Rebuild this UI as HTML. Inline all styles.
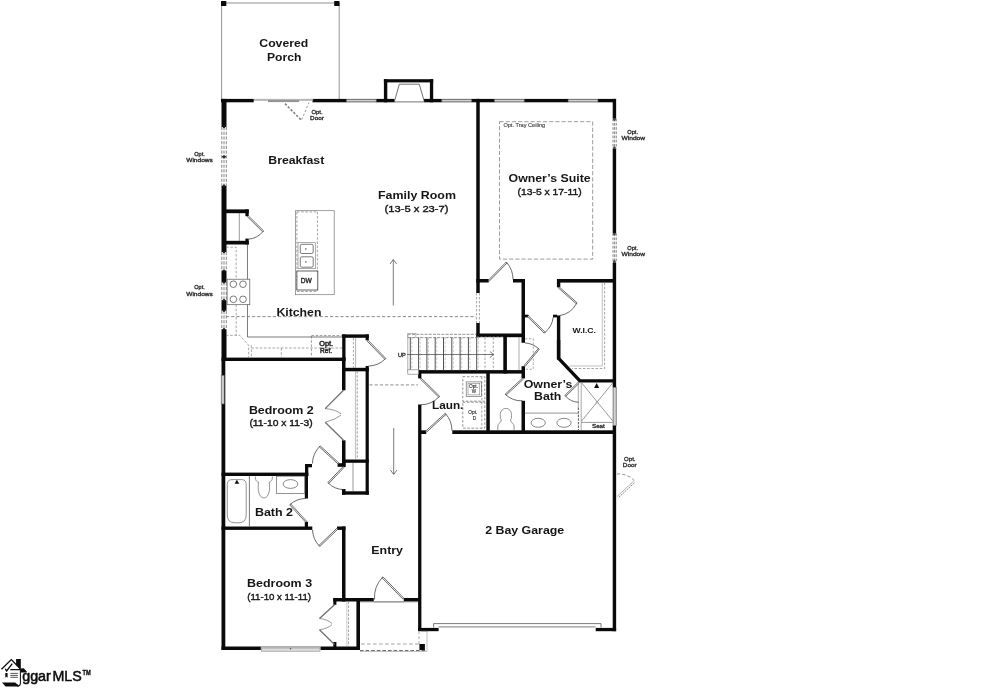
<!DOCTYPE html>
<html><head><meta charset="utf-8"><title>Floor Plan</title>
<style>
html,body{margin:0;padding:0;background:#fff;}
body{width:992px;height:688px;overflow:hidden;font-family:"Liberation Sans",sans-serif;}
svg{display:block;filter:grayscale(1);}
</style></head><body>
<svg width="992" height="688" viewBox="0 0 992 688">
<rect width="992" height="688" fill="#fff"/>
<path d="M221.6,3 H339.2 M221.6,3 V99 M339.2,3 V99" fill="none" stroke="#777" stroke-width="0.8" />
<rect x="221.00" y="1.00" width="5.30" height="5.00" fill="#0a0a0a"/>
<rect x="334.20" y="1.00" width="5.30" height="5.00" fill="#0a0a0a"/>
<rect x="221.00" y="98.90" width="32.75" height="3.40" fill="#0a0a0a"/>
<rect x="312.50" y="98.90" width="33.75" height="3.40" fill="#0a0a0a"/>
<rect x="376.25" y="98.90" width="18.25" height="3.40" fill="#0a0a0a"/>
<rect x="424.00" y="98.90" width="17.75" height="3.40" fill="#0a0a0a"/>
<rect x="471.75" y="98.90" width="22.50" height="3.40" fill="#0a0a0a"/>
<rect x="524.25" y="98.90" width="43.75" height="3.40" fill="#0a0a0a"/>
<rect x="598.00" y="98.90" width="18.00" height="3.40" fill="#0a0a0a"/>
<rect x="346.25" y="99.25" width="30.00" height="2.70" rx="0" fill="#cfcfcf" stroke="#3a3a3a" stroke-width="0.7"/>
<rect x="441.75" y="99.25" width="30.00" height="2.70" rx="0" fill="#cfcfcf" stroke="#3a3a3a" stroke-width="0.7"/>
<rect x="494.25" y="99.25" width="30.00" height="2.70" rx="0" fill="#cfcfcf" stroke="#3a3a3a" stroke-width="0.7"/>
<rect x="568.00" y="99.25" width="30.00" height="2.70" rx="0" fill="#cfcfcf" stroke="#3a3a3a" stroke-width="0.7"/>
<rect x="254.00" y="99.10" width="59.00" height="1.40" rx="0" fill="#c8c8c8" stroke="#888" stroke-width="0.4"/>
<rect x="268.30" y="100.40" width="30.50" height="1.50" rx="0" fill="#9a9a9a" stroke="#777" stroke-width="0.4"/>
<path d="M285,103.7 L301.2,120" fill="none" stroke="#858585" stroke-width="1.7" stroke-dasharray="2.4 1.6" />
<path d="M301.7,119.7 L309,102.5" fill="none" stroke="#777" stroke-width="0.7" stroke-dasharray="2.4 1.8" />
<rect x="383.90" y="79.20" width="49.30" height="3.20" fill="#0a0a0a"/>
<rect x="383.90" y="79.20" width="3.40" height="23.10" fill="#0a0a0a"/>
<rect x="429.90" y="79.20" width="3.30" height="23.10" fill="#0a0a0a"/>
<path d="M394.3,101.9 L399.3,84.2 H419.3 L424.4,101.9 Z" fill="none" stroke="#444" stroke-width="0.75" />
<rect x="221.50" y="98.90" width="5.00" height="28.10" fill="#0a0a0a"/>
<rect x="221.50" y="185.75" width="5.00" height="66.25" fill="#0a0a0a"/>
<rect x="221.50" y="270.60" width="5.00" height="11.70" fill="#0a0a0a"/>
<rect x="221.50" y="300.20" width="5.00" height="10.50" fill="#0a0a0a"/>
<rect x="221.50" y="329.20" width="5.00" height="31.80" fill="#0a0a0a"/>
<rect x="221.50" y="361.00" width="3.80" height="289.00" fill="#0a0a0a"/>
<path d="M221.8,127 V185.7 M224,127 V185.7 M226.3,127 V185.7" fill="none" stroke="#555" stroke-width="0.7" stroke-dasharray="3.2 1.5" />
<path d="M221.8,252 V270.6 M224,252 V270.6 M226.3,252 V270.6" fill="none" stroke="#555" stroke-width="0.7" stroke-dasharray="3.2 1.5" />
<path d="M221.8,282.3 V300.2 M224,282.3 V300.2 M226.3,282.3 V300.2" fill="none" stroke="#555" stroke-width="0.7" stroke-dasharray="3.2 1.5" />
<path d="M221.8,310.7 V329.2 M224,310.7 V329.2 M226.3,310.7 V329.2" fill="none" stroke="#555" stroke-width="0.7" stroke-dasharray="3.2 1.5" />
<polygon points="221.60,156.80 224.00,154.90 226.40,156.80 224.00,158.70" fill="#333" stroke="none" stroke-width="0"/>
<circle cx="224" cy="127" r="1.2" fill="#222"/>
<circle cx="224" cy="185.7" r="1.2" fill="#222"/>
<circle cx="224" cy="252" r="1.2" fill="#222"/>
<circle cx="224" cy="270.6" r="1.2" fill="#222"/>
<circle cx="224" cy="282.3" r="1.2" fill="#222"/>
<circle cx="224" cy="300.2" r="1.2" fill="#222"/>
<circle cx="224" cy="310.7" r="1.2" fill="#222"/>
<circle cx="224" cy="329.2" r="1.2" fill="#222"/>
<rect x="221.20" y="375.25" width="3.00" height="28.75" rx="0" fill="#cfcfcf" stroke="#555" stroke-width="0.6"/>
<rect x="612.70" y="98.90" width="3.45" height="19.85" fill="#0a0a0a"/>
<rect x="612.70" y="148.75" width="3.45" height="84.50" fill="#0a0a0a"/>
<rect x="612.70" y="262.50" width="3.45" height="124.80" fill="#0a0a0a"/>
<rect x="612.70" y="425.40" width="3.45" height="205.80" fill="#0a0a0a"/>
<path d="M613.0,118.75 V148.75 M614.6,118.75 V148.75 M616.2500000000001,118.75 V148.75" fill="none" stroke="#444" stroke-width="0.65" stroke-dasharray="2.7 1.5" />
<circle cx="614.4000000000001" cy="119.55" r="1.4" fill="#444"/><circle cx="614.4000000000001" cy="147.95" r="1.4" fill="#444"/>
<path d="M613.0,233.25 V262.5 M614.6,233.25 V262.5 M616.2500000000001,233.25 V262.5" fill="none" stroke="#444" stroke-width="0.65" stroke-dasharray="2.7 1.5" />
<circle cx="614.4000000000001" cy="234.05" r="1.4" fill="#444"/><circle cx="614.4000000000001" cy="261.7" r="1.4" fill="#444"/>
<rect x="613.10" y="387.30" width="3.10" height="38.10" rx="0" fill="#d4d4d4" stroke="#555" stroke-width="0.7"/>
<rect x="221.50" y="646.50" width="39.30" height="3.50" fill="#0a0a0a"/>
<rect x="320.50" y="646.50" width="39.50" height="3.50" fill="#0a0a0a"/>
<path d="M260.8,646.9 H320.5" fill="none" stroke="#444" stroke-width="0.7" />
<rect x="261.30" y="648.00" width="58.70" height="3.20" rx="0" fill="#dcdcdc" stroke="#888" stroke-width="0.6"/>
<polygon points="289.60,648.00 291.60,648.00 290.60,650.00" fill="#666" stroke="none" stroke-width="0"/>
<rect x="476.25" y="98.90" width="3.50" height="194.10" fill="#0a0a0a"/>
<rect x="476.25" y="323.00" width="3.50" height="14.20" fill="#0a0a0a"/>
<path d="M476.6,293 V323 M479.4,293 V323" fill="none" stroke="#666" stroke-width="0.6" stroke-dasharray="2.4 1.6" />
<rect x="476.25" y="279.00" width="12.50" height="3.50" fill="#0a0a0a"/>
<rect x="513.00" y="279.00" width="12.00" height="3.50" fill="#0a0a0a"/>
<rect x="521.50" y="279.00" width="3.50" height="63.80" fill="#0a0a0a"/>
<rect x="521.50" y="366.20" width="3.50" height="12.20" fill="#0a0a0a"/>
<rect x="521.50" y="400.80" width="3.50" height="33.20" fill="#0a0a0a"/>
<rect x="476.25" y="333.50" width="48.75" height="3.70" fill="#0a0a0a"/>
<rect x="503.30" y="336.00" width="3.60" height="37.50" fill="#0a0a0a"/>
<rect x="418.30" y="370.10" width="106.70" height="3.50" fill="#0a0a0a"/>
<rect x="418.10" y="370.10" width="3.30" height="8.30" fill="#0a0a0a"/>
<rect x="418.10" y="404.50" width="3.30" height="226.50" fill="#0a0a0a"/>
<rect x="486.30" y="373.00" width="3.50" height="61.00" fill="#0a0a0a"/>
<rect x="452.30" y="430.30" width="163.70" height="3.70" fill="#0a0a0a"/>
<rect x="421.00" y="430.30" width="5.20" height="3.70" fill="#0a0a0a"/>
<rect x="418.10" y="627.90" width="20.50" height="3.30" fill="#0a0a0a"/>
<rect x="595.70" y="627.90" width="20.40" height="3.30" fill="#0a0a0a"/>
<path d="M433.6,627.6 V623.6 H601 V627.6 M438.5,626.9 H595.5" fill="none" stroke="#444" stroke-width="0.7" />
<rect x="557.00" y="279.00" width="59.00" height="3.60" fill="#0a0a0a"/>
<rect x="556.90" y="279.00" width="3.40" height="8.30" fill="#0a0a0a"/>
<rect x="556.90" y="315.50" width="3.40" height="44.00" fill="#0a0a0a"/>
<path d="M558.6,340 V358.4 L579.9,380.85 H616" fill="none" stroke="#0a0a0a" stroke-width="3.4" stroke-linejoin="miter"/>
<rect x="524.50" y="314.70" width="4.10" height="2.70" fill="#0a0a0a"/>
<rect x="553.00" y="314.70" width="4.20" height="2.70" fill="#0a0a0a"/>
<rect x="221.50" y="357.60" width="124.00" height="3.40" fill="#0a0a0a"/>
<rect x="226.00" y="209.40" width="22.75" height="3.80" fill="#0a0a0a"/>
<rect x="226.00" y="240.80" width="22.75" height="3.70" fill="#0a0a0a"/>
<rect x="245.40" y="209.40" width="3.30" height="6.80" fill="#0a0a0a"/>
<rect x="245.40" y="238.60" width="3.30" height="5.90" fill="#0a0a0a"/>
<path d="M239.3,213 V241" fill="none" stroke="#555" stroke-width="0.6" />
<rect x="342.20" y="334.40" width="26.60" height="3.40" fill="#0a0a0a"/>
<rect x="342.20" y="334.40" width="3.30" height="26.60" fill="#0a0a0a"/>
<rect x="342.20" y="367.80" width="26.60" height="3.50" fill="#0a0a0a"/>
<rect x="365.60" y="334.40" width="3.20" height="5.90" fill="#0a0a0a"/>
<rect x="365.60" y="366.00" width="3.20" height="128.70" fill="#0a0a0a"/>
<rect x="342.00" y="357.60" width="3.50" height="32.70" fill="#0a0a0a"/>
<rect x="342.00" y="440.30" width="3.50" height="26.70" fill="#0a0a0a"/>
<rect x="342.00" y="459.50" width="26.80" height="3.30" fill="#0a0a0a"/>
<rect x="342.00" y="491.30" width="26.80" height="3.40" fill="#0a0a0a"/>
<rect x="342.00" y="489.00" width="3.50" height="5.70" fill="#0a0a0a"/>
<rect x="342.00" y="462.80" width="3.50" height="3.70" fill="#0a0a0a"/>
<rect x="221.50" y="472.60" width="86.80" height="3.40" fill="#0a0a0a"/>
<rect x="305.00" y="464.00" width="3.30" height="12.00" fill="#0a0a0a"/>
<rect x="305.00" y="464.00" width="7.00" height="3.30" fill="#0a0a0a"/>
<rect x="221.50" y="526.50" width="90.80" height="3.40" fill="#0a0a0a"/>
<rect x="337.00" y="526.50" width="8.50" height="3.40" fill="#0a0a0a"/>
<rect x="342.00" y="526.50" width="3.50" height="75.00" fill="#0a0a0a"/>
<rect x="333.30" y="598.00" width="40.45" height="3.50" fill="#0a0a0a"/>
<rect x="403.75" y="598.00" width="17.25" height="3.50" fill="#0a0a0a"/>
<rect x="333.30" y="598.00" width="3.10" height="6.80" fill="#0a0a0a"/>
<rect x="333.30" y="642.00" width="3.10" height="8.00" fill="#0a0a0a"/>
<rect x="356.40" y="598.00" width="3.60" height="52.00" fill="#0a0a0a"/>
<path d="M226.2,247.2 H236.2 V335.3" fill="none" stroke="#777" stroke-width="0.65" stroke-dasharray="2.6 1.6" />
<path d="M247.5,244.5 V337 H342" fill="none" stroke="#444" stroke-width="0.7" />
<path d="M226,335.3 H239.7 L248.6,345.2 V357.2 M251.4,345.2 V357.2 M251.4,348 H342 M281.3,348 V357.2" fill="none" stroke="#777" stroke-width="0.65" stroke-dasharray="2.6 1.6" />
<path d="M311.4,336 V357.2 M311.4,335.6 H342" fill="none" stroke="#666" stroke-width="0.65" stroke-dasharray="2.6 1.6" />
<rect x="227.10" y="279.20" width="22.70" height="25.50" rx="0" fill="#fff" stroke="#555" stroke-width="0.7"/>
<circle cx="233.4" cy="284.2" r="3.3" fill="none" stroke="#444" stroke-width="0.7"/>
<circle cx="243" cy="284.2" r="3.3" fill="none" stroke="#444" stroke-width="0.7"/>
<circle cx="233.4" cy="299.3" r="3.3" fill="none" stroke="#444" stroke-width="0.7"/>
<circle cx="243" cy="299.3" r="3.3" fill="none" stroke="#444" stroke-width="0.7"/>
<rect x="295.40" y="210.70" width="38.80" height="84.00" rx="0" fill="none" stroke="#777" stroke-width="0.7"/>
<path d="M296.9,211.9 H317.4 M296.9,211.9 V291 M317.4,211.9 V291 M296.9,291.5 H317.4" fill="none" stroke="#666" stroke-width="0.6" stroke-dasharray="2.6 1.6" />
<rect x="298.00" y="242.70" width="17.50" height="26.00" rx="0" fill="#fff" stroke="#777" stroke-width="0.6"/>
<rect x="300.30" y="244.30" width="12.90" height="9.20" rx="1.5" fill="none" stroke="#444" stroke-width="0.7"/>
<rect x="300.30" y="256.80" width="12.90" height="10.40" rx="1.5" fill="none" stroke="#444" stroke-width="0.7"/>
<circle cx="305.8" cy="248.9" r="0.9" fill="#888"/><circle cx="305.8" cy="261.9" r="0.9" fill="#888"/>
<rect x="296.90" y="271.00" width="20.90" height="19.00" rx="0" fill="#fff" stroke="#3a3a3a" stroke-width="0.8"/>
<path d="M226,316.6 H476" fill="none" stroke="#808080" stroke-width="0.9" stroke-dasharray="3.2 2" />
<path d="M369.5,384.9 H418" fill="none" stroke="#808080" stroke-width="0.9" stroke-dasharray="3.2 2" />
<path d="M393.3,305.5 V260 M390,264 L393.3,259.5 L396.6,264" fill="none" stroke="#444" stroke-width="0.7" />
<path d="M393.7,428 V474 M390.4,470 L393.7,474.5 L397,470" fill="none" stroke="#444" stroke-width="0.7" />
<rect x="499.50" y="121.70" width="93.20" height="137.40" rx="0" fill="none" stroke="#666" stroke-width="0.65" stroke-dasharray="4.2 2"/>
<polygon points="247.34,216.66 262.74,231.86 263.66,230.94 248.26,215.74" fill="#fff" stroke="#3a3a3a" stroke-width="0.75"/>
<path d="M263.20,231.40 A21.64,21.64 0 0 1 248.40,239.20" fill="none" stroke="#3a3a3a" stroke-width="0.75"/>
<polygon points="489.21,281.16 507.16,262.96 506.24,262.04 488.29,280.24" fill="#fff" stroke="#3a3a3a" stroke-width="0.75"/>
<path d="M506.70,262.50 A25.56,25.56 0 0 1 513.00,279.50" fill="none" stroke="#3a3a3a" stroke-width="0.75"/>
<polygon points="558.17,287.79 576.27,303.79 577.13,302.81 559.03,286.81" fill="#fff" stroke="#3a3a3a" stroke-width="0.75"/>
<path d="M576.70,303.30 A24.16,24.16 0 0 1 559.40,315.70" fill="none" stroke="#3a3a3a" stroke-width="0.75"/>
<polygon points="527.54,316.76 544.24,333.16 545.16,332.24 528.46,315.84" fill="#fff" stroke="#3a3a3a" stroke-width="0.75"/>
<path d="M544.70,332.70 A23.41,23.41 0 0 0 553.20,317.30" fill="none" stroke="#3a3a3a" stroke-width="0.75"/>
<polygon points="367.23,341.15 384.83,359.35 385.77,358.45 368.17,340.25" fill="#fff" stroke="#3a3a3a" stroke-width="0.75"/>
<path d="M385.30,358.90 A25.32,25.32 0 0 1 368.30,366.10" fill="none" stroke="#3a3a3a" stroke-width="0.75"/>
<path d="M353.4,338 V367.8" fill="none" stroke="#666" stroke-width="0.6" stroke-dasharray="2.4 1.6" />
<path d="M355.6,338 V367.8" fill="none" stroke="#666" stroke-width="0.5" />
<path d="M357.3,371.3 V459.5" fill="none" stroke="#666" stroke-width="0.6" stroke-dasharray="2.4 1.6" />
<path d="M355.6,371.3 V459.5" fill="none" stroke="#777" stroke-width="0.5" />
<path d="M353,462.8 V491.3" fill="none" stroke="#555" stroke-width="0.6" />
<path d="M343.5,390.3 L325.2,408.6 M325.2,422.2 L343.5,440.3" fill="none" stroke="#707070" stroke-width="1.3" />
<path d="M325.2,408.6 Q336,409.5 341,413.9 M341,415.1 Q336,419.5 325.2,422.2" fill="none" stroke="#555" stroke-width="0.6" />
<rect x="337.60" y="463.20" width="4.60" height="3.60" fill="#0a0a0a"/>
<polygon points="339.04,463.12 320.24,445.92 319.36,446.88 338.16,464.08" fill="#fff" stroke="#3a3a3a" stroke-width="0.75"/>
<path d="M319.80,446.40 A25.48,25.48 0 0 0 312.40,463.50" fill="none" stroke="#3a3a3a" stroke-width="0.75"/>
<polygon points="343.13,466.55 327.83,482.55 328.77,483.45 344.07,467.45" fill="#fff" stroke="#3a3a3a" stroke-width="0.75"/>
<path d="M328.30,483.00 A22.14,22.14 0 0 0 343.60,489.60" fill="none" stroke="#3a3a3a" stroke-width="0.75"/>
<path d="M227.3,484.5 Q227.3,479.6 232,479.6 H241.5 Q246.2,479.6 246.2,484.5 V515 Q246.2,522.8 238.5,522.8 H235 Q227.3,522.8 227.3,515 Z" fill="none" stroke="#666" stroke-width="0.7"/>
<polygon points="234.50,483.80 239.30,483.80 236.90,479.80" fill="#111" stroke="none" stroke-width="0"/>
<path d="M249.4,476 V526.5" fill="none" stroke="#777" stroke-width="1.0" />
<rect x="304.80" y="476.00" width="3.20" height="22.50" fill="#0a0a0a"/>
<rect x="304.80" y="521.80" width="3.20" height="5.20" fill="#0a0a0a"/>
<path d="M255.3,476.5 C255.3,481.5 257.5,481.8 258.6,482.2 C257.2,490 259.2,498 263.9,498 C268.6,498 270.6,490 269.2,482.2 C270.3,481.8 272.4,481.5 272.4,476.5" fill="none" stroke="#666" stroke-width="0.7"/>
<rect x="276.40" y="476.20" width="28.40" height="17.20" rx="0" fill="none" stroke="#666" stroke-width="0.7"/>
<ellipse cx="290.5" cy="484" rx="7.3" ry="4.4" fill="none" stroke="#555" stroke-width="0.7"/>
<polygon points="306.68,521.36 290.68,503.96 289.72,504.84 305.72,522.24" fill="#fff" stroke="#3a3a3a" stroke-width="0.75"/>
<path d="M290.20,504.40 A23.64,23.64 0 0 1 305.80,498.50" fill="none" stroke="#3a3a3a" stroke-width="0.75"/>
<polygon points="337.05,528.13 318.85,545.53 319.75,546.47 337.95,529.07" fill="#fff" stroke="#3a3a3a" stroke-width="0.75"/>
<path d="M319.30,546.00 A25.18,25.18 0 0 1 312.50,530.00" fill="none" stroke="#3a3a3a" stroke-width="0.75"/>
<path d="M334.5,604.8 L319.5,618.5 M319.5,629.8 L334.5,644.5" fill="none" stroke="#707070" stroke-width="1.3" />
<path d="M319.5,618.5 Q328,619.5 332,623.6 M332,624.6 Q328,628.5 319.5,629.8" fill="none" stroke="#555" stroke-width="0.6" />
<path d="M346.8,601.5 V646.5" fill="none" stroke="#999" stroke-width="0.5" />
<path d="M348.5,601.5 V646.5" fill="none" stroke="#666" stroke-width="0.6" stroke-dasharray="2.4 1.6" />
<polygon points="403.77,598.15 382.97,576.85 382.03,577.75 402.83,599.05" fill="#fff" stroke="#3a3a3a" stroke-width="0.75"/>
<path d="M382.50,577.30 A29.77,29.77 0 0 0 374.50,599.50" fill="none" stroke="#3a3a3a" stroke-width="0.75"/>
<path d="M374,601.9 H403.75" fill="none" stroke="#555" stroke-width="0.6" />
<path d="M360,601.9 H417.6" fill="none" stroke="#666" stroke-width="0.6" />
<path d="M361,644 H419" fill="none" stroke="#999" stroke-width="0.9" stroke-dasharray="3.6 2.4" />
<path d="M360,650.6 H426" fill="none" stroke="#333" stroke-width="0.8" stroke-dasharray="3.6 2" />
<path d="M360,651.5 H427 V631.2" fill="none" stroke="#aaa" stroke-width="0.7" />
<path d="M419,631.2 V644" fill="none" stroke="#888" stroke-width="0.7" stroke-dasharray="3 2" />
<path d="M421,631 H428" fill="none" stroke="#555" stroke-width="0.6" />
<rect x="419.40" y="644.00" width="5.50" height="6.10" fill="#0a0a0a"/>
<path d="M410.30,337.5 V370.3" fill="none" stroke="#333" stroke-width="0.85" />
<path d="M411.90,337.5 V370.3" fill="none" stroke="#999" stroke-width="0.5" stroke-dasharray="2.4 1.6" />
<path d="M418.60,337.5 V370.3" fill="none" stroke="#333" stroke-width="0.85" />
<path d="M420.20,337.5 V370.3" fill="none" stroke="#999" stroke-width="0.5" stroke-dasharray="2.4 1.6" />
<path d="M426.90,337.5 V370.3" fill="none" stroke="#333" stroke-width="0.85" />
<path d="M428.50,337.5 V370.3" fill="none" stroke="#999" stroke-width="0.5" stroke-dasharray="2.4 1.6" />
<path d="M435.20,337.5 V370.3" fill="none" stroke="#333" stroke-width="0.85" />
<path d="M436.80,337.5 V370.3" fill="none" stroke="#999" stroke-width="0.5" stroke-dasharray="2.4 1.6" />
<path d="M443.50,337.5 V370.3" fill="none" stroke="#333" stroke-width="0.85" />
<path d="M445.10,337.5 V370.3" fill="none" stroke="#999" stroke-width="0.5" stroke-dasharray="2.4 1.6" />
<path d="M451.80,337.5 V370.3" fill="none" stroke="#333" stroke-width="0.85" />
<path d="M453.40,337.5 V370.3" fill="none" stroke="#999" stroke-width="0.5" stroke-dasharray="2.4 1.6" />
<path d="M460.10,337.5 V370.3" fill="none" stroke="#333" stroke-width="0.85" />
<path d="M461.70,337.5 V370.3" fill="none" stroke="#999" stroke-width="0.5" stroke-dasharray="2.4 1.6" />
<path d="M468.40,337.5 V370.3" fill="none" stroke="#333" stroke-width="0.85" />
<path d="M470.00,337.5 V370.3" fill="none" stroke="#999" stroke-width="0.5" stroke-dasharray="2.4 1.6" />
<path d="M476.70,337.5 V370.3" fill="none" stroke="#333" stroke-width="0.85" />
<path d="M478.30,337.5 V370.3" fill="none" stroke="#999" stroke-width="0.5" stroke-dasharray="2.4 1.6" />
<path d="M485.00,337.5 V370.3" fill="none" stroke="#666" stroke-width="0.6" stroke-dasharray="2.4 1.6" />
<path d="M493.30,337.5 V370.3" fill="none" stroke="#666" stroke-width="0.6" stroke-dasharray="2.4 1.6" />
<path d="M407.8,334.3 H476.5 M407.8,337.6 H476.5" fill="none" stroke="#666" stroke-width="0.7" stroke-dasharray="3 1.2" />
<path d="M407.8,334.3 V372" fill="none" stroke="#777" stroke-width="0.6" />
<path d="M476.5,336.5 H503.5" fill="none" stroke="#666" stroke-width="0.6" stroke-dasharray="2.4 1.6" />
<path d="M407,354.5 H493.3 M489.8,351.4 L493.6,354.5 L489.8,357.6" fill="none" stroke="#444" stroke-width="0.7" />
<rect x="407.80" y="369.80" width="10.60" height="4.40" rx="0" fill="#fff" stroke="#888" stroke-width="0.7"/>
<rect x="407.80" y="333.60" width="8.00" height="4.00" rx="0" fill="none" stroke="#999" stroke-width="0.6"/>
<path d="M519,337 V370.2" fill="none" stroke="#777" stroke-width="0.6" />
<polygon points="525.10,366.42 539.30,349.32 538.30,348.48 524.10,365.58" fill="#fff" stroke="#3a3a3a" stroke-width="0.75"/>
<path d="M538.80,348.90 A22.23,22.23 0 0 0 525.00,342.90" fill="none" stroke="#3a3a3a" stroke-width="0.75"/>
<path d="M525,338.8 H533.3 V369.2 H525" fill="none" stroke="#777" stroke-width="0.6" stroke-dasharray="2.4 1.6" />
<polygon points="420.14,378.86 438.74,397.16 439.66,396.24 421.06,377.94" fill="#fff" stroke="#3a3a3a" stroke-width="0.75"/>
<path d="M439.20,396.70 A26.09,26.09 0 0 1 421.00,404.80" fill="none" stroke="#3a3a3a" stroke-width="0.75"/>
<polygon points="426.54,432.08 446.14,414.28 445.26,413.32 425.66,431.12" fill="#fff" stroke="#3a3a3a" stroke-width="0.75"/>
<path d="M445.70,413.80 A26.48,26.48 0 0 1 452.00,430.60" fill="none" stroke="#3a3a3a" stroke-width="0.75"/>
<rect x="462.80" y="376.70" width="22.00" height="24.50" rx="0" fill="none" stroke="#666" stroke-width="0.7" stroke-dasharray="2.6 1.6"/>
<rect x="462.80" y="402.20" width="22.00" height="26.00" rx="0" fill="none" stroke="#666" stroke-width="0.7" stroke-dasharray="2.6 1.6"/>
<path d="M481.8,376.7 V428" fill="none" stroke="#666" stroke-width="0.6" stroke-dasharray="2.6 1.6" />
<rect x="466.20" y="381.90" width="15.40" height="14.80" rx="0" fill="none" stroke="#555" stroke-width="0.6"/>
<rect x="468.00" y="383.70" width="11.80" height="11.20" rx="0" fill="none" stroke="#666" stroke-width="0.5"/>
<path d="M497.8,430.5 V426 C497.8,423.5 501,423 501.3,420 C500,418 500.3,416 500.3,414.5 C500.3,411 502.8,408.4 505.9,408.4 C509,408.4 511.5,411 511.5,414.5 C511.5,416 511.8,418 510.5,420 C510.8,423 514.1,423.5 514.1,426 V430.5" fill="none" stroke="#666" stroke-width="0.7"/>
<polygon points="522.56,378.12 505.16,394.22 506.04,395.18 523.44,379.08" fill="#fff" stroke="#3a3a3a" stroke-width="0.75"/>
<path d="M505.60,394.70 A23.71,23.71 0 0 0 522.50,400.80" fill="none" stroke="#3a3a3a" stroke-width="0.75"/>
<path d="M524.75,413.1 H578" fill="none" stroke="#666" stroke-width="0.7" />
<ellipse cx="538.2" cy="422.8" rx="7.1" ry="4.5" fill="none" stroke="#555" stroke-width="0.7"/>
<ellipse cx="564" cy="422.8" rx="7.1" ry="4.5" fill="none" stroke="#555" stroke-width="0.7"/>
<path d="M578.3,382.8 V407.5 M581.2,382.8 V430.3" fill="none" stroke="#777" stroke-width="0.65" />
<path d="M578.4,407.5 V430.3" fill="none" stroke="#444" stroke-width="0.9" stroke-dasharray="2.4 1.2" />
<path d="M581.6,382.8 L612.8,421 M612.8,382.8 L581.6,421 M581.3,422.4 H612.8" fill="none" stroke="#555" stroke-width="0.6" />
<circle cx="597" cy="402.2" r="0.9" fill="#fff" stroke="#666" stroke-width="0.5"/>
<polygon points="594.10,388.10 599.20,388.10 596.65,383.00" fill="#111" stroke="none" stroke-width="0"/>
<polygon points="578.34,382.14 564.84,395.44 565.76,396.36 579.26,383.06" fill="#fff" stroke="#3a3a3a" stroke-width="0.75"/>
<path d="M565.30,395.90 A18.95,18.95 0 0 0 578.60,402.30" fill="none" stroke="#3a3a3a" stroke-width="0.75"/>
<path d="M602.3,282.6 V366 H569.3" fill="none" stroke="#999" stroke-width="0.6" />
<path d="M604.6,282.6 V368.5 H572" fill="none" stroke="#777" stroke-width="0.65" stroke-dasharray="2.6 1.6" />
<path d="M617.6,496 L633.8,481 M618.8,497.3 L635,482.3" fill="none" stroke="#333" stroke-width="0.75" stroke-dasharray="1.4 1.3" />
<path d="M634.4,480.7 A22,22 0 0 0 617,474" fill="none" stroke="#555" stroke-width="0.7" stroke-dasharray="3 2.4" />
<g font-family="Liberation Sans, sans-serif">
<text x="259.30" y="47.10" font-size="11" font-weight="bold" fill="#161616" textLength="49.00" lengthAdjust="spacingAndGlyphs" text-anchor="start">Covered</text>
<text x="267.00" y="61.00" font-size="11" font-weight="bold" fill="#161616" textLength="34.30" lengthAdjust="spacingAndGlyphs" text-anchor="start">Porch</text>
<text x="268.30" y="163.70" font-size="11.4" font-weight="bold" fill="#161616" textLength="56.00" lengthAdjust="spacingAndGlyphs" text-anchor="start">Breakfast</text>
<text x="378.00" y="199.10" font-size="10.6" font-weight="bold" fill="#161616" textLength="78.00" lengthAdjust="spacingAndGlyphs" text-anchor="start">Family Room</text>
<text x="384.50" y="211.50" font-size="9.9" font-weight="normal" fill="#161616" stroke="#161616" stroke-width="0.38" textLength="64.00" lengthAdjust="spacingAndGlyphs" text-anchor="start">(13-5 x 23-7)</text>
<text x="508.60" y="182.30" font-size="11" font-weight="bold" fill="#161616" textLength="82.10" lengthAdjust="spacingAndGlyphs" text-anchor="start">Owner’s Suite</text>
<text x="517.60" y="194.70" font-size="9.8" font-weight="normal" fill="#161616" stroke="#161616" stroke-width="0.38" textLength="64.00" lengthAdjust="spacingAndGlyphs" text-anchor="start">(13-5 x 17-11)</text>
<text x="276.40" y="315.90" font-size="11.2" font-weight="bold" fill="#161616" textLength="45.00" lengthAdjust="spacingAndGlyphs" text-anchor="start">Kitchen</text>
<text x="248.90" y="413.60" font-size="10.8" font-weight="bold" fill="#161616" textLength="64.90" lengthAdjust="spacingAndGlyphs" text-anchor="start">Bedroom 2</text>
<text x="249.40" y="425.50" font-size="9.6" font-weight="normal" fill="#161616" stroke="#161616" stroke-width="0.38" textLength="63.20" lengthAdjust="spacingAndGlyphs" text-anchor="start">(11-10 x 11-3)</text>
<text x="254.90" y="515.50" font-size="11.2" font-weight="bold" fill="#161616" textLength="38.10" lengthAdjust="spacingAndGlyphs" text-anchor="start">Bath 2</text>
<text x="247.00" y="587.10" font-size="10.8" font-weight="bold" fill="#161616" textLength="65.10" lengthAdjust="spacingAndGlyphs" text-anchor="start">Bedroom 3</text>
<text x="247.20" y="599.60" font-size="9.6" font-weight="normal" fill="#161616" stroke="#161616" stroke-width="0.38" textLength="63.90" lengthAdjust="spacingAndGlyphs" text-anchor="start">(11-10 x 11-11)</text>
<text x="371.30" y="554.05" font-size="10.8" font-weight="bold" fill="#161616" textLength="31.70" lengthAdjust="spacingAndGlyphs" text-anchor="start">Entry</text>
<text x="485.20" y="533.65" font-size="11.2" font-weight="bold" fill="#161616" textLength="79.00" lengthAdjust="spacingAndGlyphs" text-anchor="start">2 Bay Garage</text>
<text x="523.70" y="388.40" font-size="11.2" font-weight="bold" fill="#161616" textLength="48.80" lengthAdjust="spacingAndGlyphs" text-anchor="start">Owner’s</text>
<text x="534.00" y="399.85" font-size="10.8" font-weight="bold" fill="#161616" textLength="27.40" lengthAdjust="spacingAndGlyphs" text-anchor="start">Bath</text>
<text x="432.00" y="408.80" font-size="10.8" font-weight="bold" fill="#161616" textLength="31.40" lengthAdjust="spacingAndGlyphs" text-anchor="start">Laun.</text>
<text x="572.50" y="333.10" font-size="8.1" font-weight="bold" fill="#161616" textLength="23.50" lengthAdjust="spacingAndGlyphs" text-anchor="start">W.I.C.</text>
<text x="317.00" y="113.50" font-size="5.6" fill="#2a2a2a" stroke="#2a2a2a" stroke-width="0.3" text-anchor="middle" textLength="11.00" lengthAdjust="spacingAndGlyphs">Opt.</text>
<text x="317.00" y="119.80" font-size="5.6" fill="#2a2a2a" stroke="#2a2a2a" stroke-width="0.3" text-anchor="middle" textLength="13.80" lengthAdjust="spacingAndGlyphs">Door</text>
<text x="199.50" y="156.00" font-size="5.4" fill="#2a2a2a" stroke="#2a2a2a" stroke-width="0.3" text-anchor="middle" textLength="10.50" lengthAdjust="spacingAndGlyphs">Opt.</text>
<text x="199.50" y="162.30" font-size="5.4" fill="#2a2a2a" stroke="#2a2a2a" stroke-width="0.3" text-anchor="middle" textLength="26.50" lengthAdjust="spacingAndGlyphs">Windows</text>
<text x="199.50" y="289.00" font-size="5.4" fill="#2a2a2a" stroke="#2a2a2a" stroke-width="0.3" text-anchor="middle" textLength="10.50" lengthAdjust="spacingAndGlyphs">Opt.</text>
<text x="199.50" y="295.50" font-size="5.4" fill="#2a2a2a" stroke="#2a2a2a" stroke-width="0.3" text-anchor="middle" textLength="26.50" lengthAdjust="spacingAndGlyphs">Windows</text>
<text x="632.60" y="133.60" font-size="5.6" fill="#2a2a2a" stroke="#2a2a2a" stroke-width="0.3" text-anchor="middle" textLength="10.80" lengthAdjust="spacingAndGlyphs">Opt.</text>
<text x="633.30" y="140.00" font-size="5.6" fill="#2a2a2a" stroke="#2a2a2a" stroke-width="0.3" text-anchor="middle" textLength="23.60" lengthAdjust="spacingAndGlyphs">Window</text>
<text x="632.60" y="249.60" font-size="5.6" fill="#2a2a2a" stroke="#2a2a2a" stroke-width="0.3" text-anchor="middle" textLength="10.80" lengthAdjust="spacingAndGlyphs">Opt.</text>
<text x="633.30" y="256.00" font-size="5.6" fill="#2a2a2a" stroke="#2a2a2a" stroke-width="0.3" text-anchor="middle" textLength="23.60" lengthAdjust="spacingAndGlyphs">Window</text>
<text x="629.80" y="461.10" font-size="5.6" fill="#2a2a2a" stroke="#2a2a2a" stroke-width="0.3" text-anchor="middle" textLength="11.40" lengthAdjust="spacingAndGlyphs">Opt.</text>
<text x="629.70" y="467.30" font-size="5.6" fill="#2a2a2a" stroke="#2a2a2a" stroke-width="0.3" text-anchor="middle" textLength="13.80" lengthAdjust="spacingAndGlyphs">Door</text>
<text x="326.20" y="346.20" font-size="6.3" fill="#2a2a2a" stroke="#2a2a2a" stroke-width="0.45" text-anchor="middle" textLength="13.80" lengthAdjust="spacingAndGlyphs">Opt.</text>
<text x="326.10" y="353.40" font-size="6.3" fill="#2a2a2a" stroke="#2a2a2a" stroke-width="0.45" text-anchor="middle" textLength="12.00" lengthAdjust="spacingAndGlyphs">Ref.</text>
<text x="503.4" y="127.1" font-size="4.8" fill="#444" stroke="#444" stroke-width="0.12" textLength="41.8" lengthAdjust="spacingAndGlyphs">Opt. Tray Ceiling</text>
<text x="306.30" y="283.20" font-size="6.8" fill="#2a2a2a" stroke="#2a2a2a" stroke-width="0.4" text-anchor="middle" textLength="11.00" lengthAdjust="spacingAndGlyphs">DW</text>
<text x="401.90" y="356.50" font-size="5.3" fill="#2a2a2a" stroke="#2a2a2a" stroke-width="0.3" text-anchor="middle" textLength="7.80" lengthAdjust="spacingAndGlyphs">UP</text>
<text x="598.40" y="428.40" font-size="5.5" fill="#2a2a2a" stroke="#2a2a2a" stroke-width="0.3" text-anchor="middle" textLength="12.80" lengthAdjust="spacingAndGlyphs">Seat</text>
<text x="473.50" y="388.30" font-size="4.6" fill="#2a2a2a" stroke="#2a2a2a" stroke-width="0.12" text-anchor="middle" textLength="9.00" lengthAdjust="spacingAndGlyphs">Opt.</text>
<text x="474.00" y="393.20" font-size="4.6" fill="#2a2a2a" stroke="#2a2a2a" stroke-width="0.12" text-anchor="middle">W</text>
<text x="472.80" y="414.20" font-size="4.6" fill="#2a2a2a" stroke="#2a2a2a" stroke-width="0.12" text-anchor="middle" textLength="9.00" lengthAdjust="spacingAndGlyphs">Opt.</text>
<text x="474.50" y="419.60" font-size="4.6" fill="#2a2a2a" stroke="#2a2a2a" stroke-width="0.12" text-anchor="middle">D</text>
</g>
<g>
<path d="M1.5,669.3 L11.3,659.6 L20.3,668.8" fill="none" stroke="#0d0d0d" stroke-width="1.35" stroke-linejoin="miter"/>
<polygon points="16.1,659.1 20.8,659.1 20.8,668.4 23.7,668.3 26.8,671.6 26.8,672.4 20.9,672.4 20.9,669 19.8,668.8 16.1,664.6" fill="#0d0d0d"/>
<path d="M10.3,669.6 H20.4 V683.5 Q20.4,686 17.3,686.3" fill="none" stroke="#0d0d0d" stroke-width="1.05"/>
<path d="M5.3,668.7 L6.6,671 L12.3,663.7" fill="none" stroke="#0d0d0d" stroke-width="1.3"/>
<polygon points="5.3,673.1 7.6,673.1 7.6,677.8 6.45,676.7 5.3,677.8" fill="#0d0d0d"/>
<path d="M10.3,673.4 H17.9 M10.3,675.4 H17.9 M10.3,677.3 H17.9" fill="none" stroke="#0d0d0d" stroke-width="0.7"/>
<polygon points="2,682.5 15.1,682.5 18.7,685.3 18.7,686.6 5.6,686.6" fill="#0d0d0d"/>
</g>
<g font-family="Liberation Sans, sans-serif" fill="#0d0d0d" stroke="#0d0d0d">
<text x="22.2" y="681.4" font-size="13.8" stroke-width="0.55" textLength="28.6" lengthAdjust="spacingAndGlyphs">ggar</text>
<text x="52.4" y="681.4" font-size="14.8" stroke-width="0.5" textLength="29.3" lengthAdjust="spacingAndGlyphs">MLS</text>
<text x="82.6" y="674.7" font-size="6.3" font-weight="bold" stroke-width="0.3" textLength="8.2" lengthAdjust="spacingAndGlyphs">TM</text>
</g>
</svg>
</body></html>
